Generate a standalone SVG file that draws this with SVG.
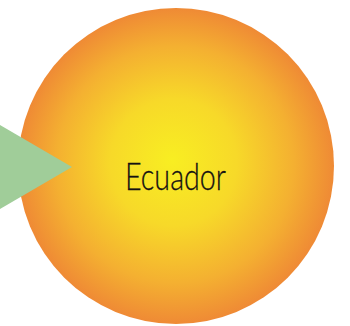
<svg xmlns="http://www.w3.org/2000/svg" width="350" height="326" viewBox="0 0 350 326">
<defs>
<radialGradient id="sun" cx="176" cy="166" r="158" fx="172" fy="160" gradientUnits="userSpaceOnUse">
<stop offset="0" stop-color="#f8ee22"/>
<stop offset="0.4" stop-color="#f7d929"/>
<stop offset="0.75" stop-color="#f4b031"/>
<stop offset="1" stop-color="#ef8a35"/>
</radialGradient>
<style>
.lbl{font-family:"Lato","Liberation Sans",sans-serif;font-weight:300;font-size:38px;fill:#141112;stroke:#141112;stroke-width:0.3px}
</style>
</defs>
<g id="ecuador">
<circle cx="176" cy="166" r="158" fill="url(#sun)"/>
<text class="lbl" x="125" y="190" textLength="101" lengthAdjust="spacingAndGlyphs">Ecuador</text>
</g>
<g id="pointer">
<polygon points="0,125 72,167 0,209" fill="#a0cd99"/>
</g>
</svg>
